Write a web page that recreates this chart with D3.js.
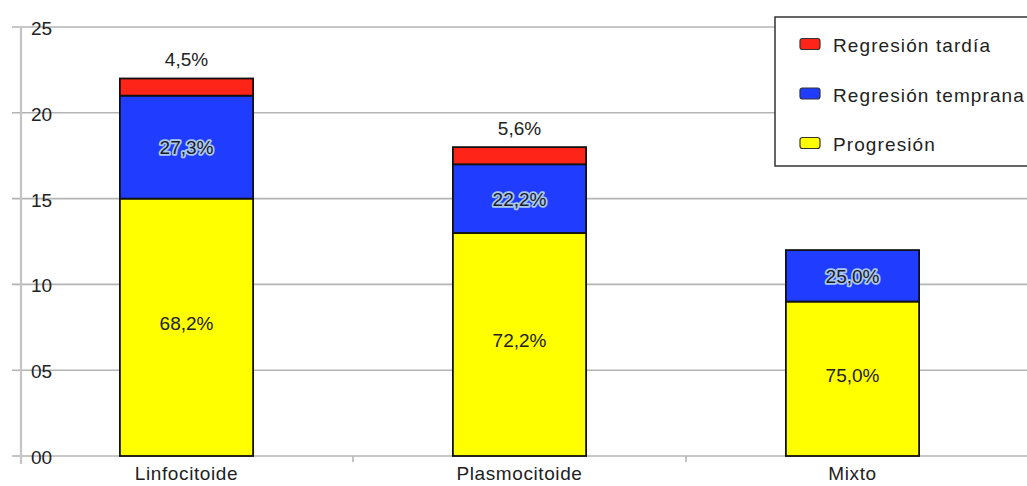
<!DOCTYPE html>
<html>
<head>
<meta charset="utf-8">
<script src="https://cdn.jsdelivr.net/npm/d3@7"></script>
<style>
  body { margin: 0; background: #fff; }
  svg { display: block; font-family: "Liberation Sans", Arial, sans-serif; }
</style>
</head>
<body>
<svg id="chart" width="1027" height="486"></svg>
<script>
// Counts per morphology type, stacked by outcome
const categories = ["Linfocitoide", "Plasmocitoide", "Mixto"];
const progresion = [15, 13, 9];
const regTemprana = [6, 4, 3];
const regTardia = [1, 1, 0];
const pctProgresion = ["68,2%", "72,2%", "75,0%"];
const pctTemprana = ["27,3%", "22,2%", "25,0%"];
const pctTardia = ["4,5%", "5,6%", ""];
const yTicks = [0, 5, 10, 15, 20, 25];
const yTickLabels = ["00", "05", "10", "15", "20", "25"];
const seriesNames = ["Progresión", "Regresión temprana", "Regresión tardía"];
const seriesColors = ["#ffff00", "#1f3cff", "#ff2418"];

const svg = d3.select("#chart");
const W = 1027, H = 486;
const x0 = 20, x1 = 1019, yBottom = 456, yTop = 27;
const FS = 19;

const x = d3.scaleBand().domain(categories).range([x0, x1]).paddingInner(0.6).paddingOuter(0.3);
const y = d3.scaleLinear().domain([0, 25]).range([yBottom, yTop]);

// gridlines
svg.append("g").selectAll("line").data(yTicks).join("line")
  .attr("x1", 12).attr("x2", W)
  .attr("y1", d => y(d)).attr("y2", d => y(d))
  .attr("stroke", "#b4b4b4").attr("stroke-width", 1.6);

// vertical axis line
svg.append("line").attr("x1", 21).attr("x2", 21).attr("y1", y(25)).attr("y2", yBottom + 8)
  .attr("stroke", "#c4c4c4").attr("stroke-width", 2.2);

// category separator ticks
const step = x.step();
svg.append("g").selectAll("line").data(categories.slice(0, -1)).join("line")
  .attr("x1", d => x(d) - step * 0.3 + step).attr("x2", d => x(d) - step * 0.3 + step)
  .attr("y1", yBottom).attr("y2", yBottom + 6)
  .attr("stroke", "#b4b4b4").attr("stroke-width", 1.6);

// y tick labels
svg.append("g").selectAll("text").data(yTicks).join("text")
  .attr("x", 31).attr("y", d => y(d) + 8)
  .attr("font-size", FS).attr("fill", "#222")
  .text((d, i) => yTickLabels[i]);

// stacked data
const rows = categories.map((c, i) => ({ cat: c, s0: progresion[i], s1: regTemprana[i], s2: regTardia[i] }));
const stack = d3.stack().keys(["s0", "s1", "s2"])(rows);

const bars = svg.append("g");
stack.forEach((layer, li) => {
  bars.append("g").selectAll("rect").data(layer.filter(d => d[1] > d[0])).join("rect")
    .attr("x", d => x(d.data.cat))
    .attr("width", x.bandwidth())
    .attr("y", d => y(d[1]))
    .attr("height", d => y(d[0]) - y(d[1]))
    .attr("fill", seriesColors[li])
    .attr("stroke", "#111").attr("stroke-width", 1.8);
});

// labels in progression segments
svg.append("g").selectAll("text").data(stack[0]).join("text")
  .attr("x", d => x(d.data.cat) + x.bandwidth() / 2)
  .attr("y", d => (y(d[0]) + y(d[1])) / 2 + 3)
  .attr("text-anchor", "middle").attr("font-size", FS).attr("fill", "#222")
  .text((d, i) => pctProgresion[i]);

// labels in early regression segments (with light halo)
svg.append("g").selectAll("text").data(stack[1]).join("text")
  .attr("x", d => x(d.data.cat) + x.bandwidth() / 2)
  .attr("y", d => (y(d[0]) + y(d[1])) / 2 + 7)
  .attr("text-anchor", "middle").attr("font-size", FS).attr("fill", "#1a1a2a")
  .attr("stroke", "#a9c8ee").attr("stroke-width", 3.5).attr("paint-order", "stroke")
  .attr("stroke-linejoin", "round")
  .text((d, i) => pctTemprana[i]);

// labels above bars for late regression
svg.append("g").selectAll("text").data(stack[2].filter(d => d[1] > d[0])).join("text")
  .attr("x", d => x(d.data.cat) + x.bandwidth() / 2)
  .attr("y", d => y(d[1]) - 12)
  .attr("text-anchor", "middle").attr("font-size", FS).attr("fill", "#222")
  .text(d => pctTardia[categories.indexOf(d.data.cat)]);

// category labels
svg.append("g").selectAll("text").data(categories).join("text")
  .attr("x", d => x(d) + x.bandwidth() / 2)
  .attr("y", yBottom + 24)
  .attr("text-anchor", "middle").attr("font-size", FS).attr("letter-spacing", 0.6).attr("fill", "#222")
  .text(d => d);

// legend
const lg = svg.append("g");
lg.append("rect").attr("x", 775).attr("y", 17).attr("width", 270).attr("height", 149)
  .attr("fill", "#fff").attr("stroke", "#333").attr("stroke-width", 1.5);
const legendOrder = [2, 1, 0];
legendOrder.forEach((si, k) => {
  const cy = 44 + k * 49.5;
  lg.append("rect").attr("x", 800).attr("y", cy - 5.5).attr("width", 20).attr("height", 11)
    .attr("rx", 2.5).attr("fill", seriesColors[si]).attr("stroke", "#333").attr("stroke-width", 1.2);
  lg.append("text").attr("x", 833).attr("y", cy + 8)
    .attr("font-size", FS).attr("letter-spacing", 1.1).attr("fill", "#222").text(seriesNames[si]);
});
</script>
</body>
</html>
